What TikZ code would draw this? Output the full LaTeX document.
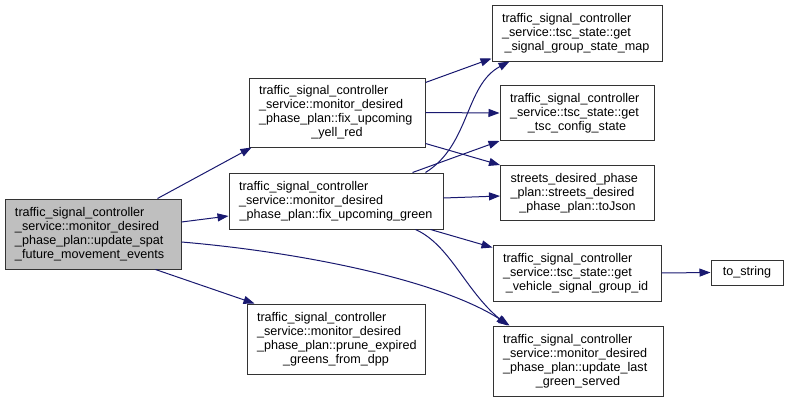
\documentclass[tikz,border=0pt]{standalone}
\usepackage{fontspec}
\setmainfont{Liberation Sans}
\usetikzlibrary{arrows.meta,calc}
\definecolor{edgec}{HTML}{191970}
\definecolor{boxc}{HTML}{333333}
\definecolor{mainfill}{HTML}{BFBFBF}
\newcommand{\lastc}[1]{\makebox[\hsize][c]{#1}}
\begin{document}
\begin{tikzpicture}[x=1pt,y=-1pt,
  fn/.style={draw=boxc, line width=1pt, fill=white,
    font=\fontsize{12.6}{14}\selectfont, align=left,
    inner xsep=10pt, inner ysep=0pt},
  edge/.style={draw=edgec, line width=1pt,
    -{Triangle[length=11pt,width=8pt]}, fill=none}]
\useasboundingbox (0,0) rectangle (788,402);

\node[fn, fill=mainfill, text width=156pt, minimum height=70pt] (main) at (93,234)
  {traffic\_signal\_controller\\\_service::monitor\_desired\\\_phase\_plan::update\_spat\\\_future\_movement\_events};
\node[fn, text width=156pt, minimum height=69pt] (yell) at (337,112.5)
  {traffic\_signal\_controller\\\_service::monitor\_desired\\\_phase\_plan::fix\_upcoming\\\lastc{\_yell\_red}};
\node[fn, text width=194pt, minimum height=56pt] (green) at (336,201)
  {traffic\_signal\_controller\\\_service::monitor\_desired\\\lastc{\_phase\_plan::fix\_upcoming\_green}};
\node[fn, text width=158pt, minimum height=70pt] (prune) at (336,339)
  {traffic\_signal\_controller\\\_service::monitor\_desired\\\_phase\_plan::prune\_expired\\\lastc{\_greens\_from\_dpp}};
\node[fn, text width=150pt, minimum height=56pt] (sigmap) at (577,33)
  {traffic\_signal\_controller\\\_service::tsc\_state::get\\\lastc{\_signal\_group\_state\_map}};
\node[fn, text width=134pt, minimum height=55pt] (tscconf) at (577,113)
  {traffic\_signal\_controller\\\_service::tsc\_state::get\\\lastc{\_tsc\_config\_state}};
\node[fn, text width=134pt, minimum height=55pt] (tojson) at (577.5,193)
  {streets\_desired\_phase\\\_plan::streets\_desired\\\lastc{\_phase\_plan::toJson}};
\node[fn, text width=148pt, minimum height=56pt] (vehicle) at (577,273)
  {traffic\_signal\_controller\\\_service::tsc\_state::get\\\lastc{\_vehicle\_signal\_group\_id}};
\node[fn, text width=52pt, align=center, minimum height=25pt] (tostring) at (747,272.5)
  {to\_string};
\node[fn, text width=150pt, minimum height=70pt] (update) at (578,361)
  {traffic\_signal\_controller\\\_service::monitor\_desired\\\_phase\_plan::update\_last\\\lastc{\_green\_served}};

\draw[edge] ([xshift=-24pt]main.north east) -- ([xshift=3pt]yell.south west);
\draw[edge] ([yshift=12pt]main.east) -- ([yshift=-15pt]green.west);
\draw[edge] ([yshift=-8pt]main.east) .. controls (300,252) and (440,280) .. ([xshift=17pt]update.north west);
\draw[edge] ([xshift=-26pt]main.south east) -- ([xshift=8pt]prune.north west);
\draw[edge] ([yshift=-5pt]yell.north east) -- ([yshift=3pt]sigmap.south west);
\draw[edge] (yell.east) -- (tscconf.west);
\draw[edge] ([yshift=4pt]yell.south east) -- (tojson.north west);
\draw[edge] ([xshift=-18pt]green.north east) .. controls (470,145) and (465,85) .. ([xshift=18pt]sigmap.south west);
\draw[edge] ([xshift=-31pt]green.north east) -- (tscconf.south west);
\draw[edge] ([yshift=3pt]green.east) -- ([yshift=-3pt]tojson.west);
\draw[edge] ([xshift=-13pt]green.south east) -- ([yshift=-3pt]vehicle.north west);
\draw[edge] ([xshift=-28pt]green.south east) .. controls (450,245) and (465,290) .. ([xshift=15pt]update.north west);
\draw[edge] (vehicle.east) -- (tostring.west);
\end{tikzpicture}
\end{document}
